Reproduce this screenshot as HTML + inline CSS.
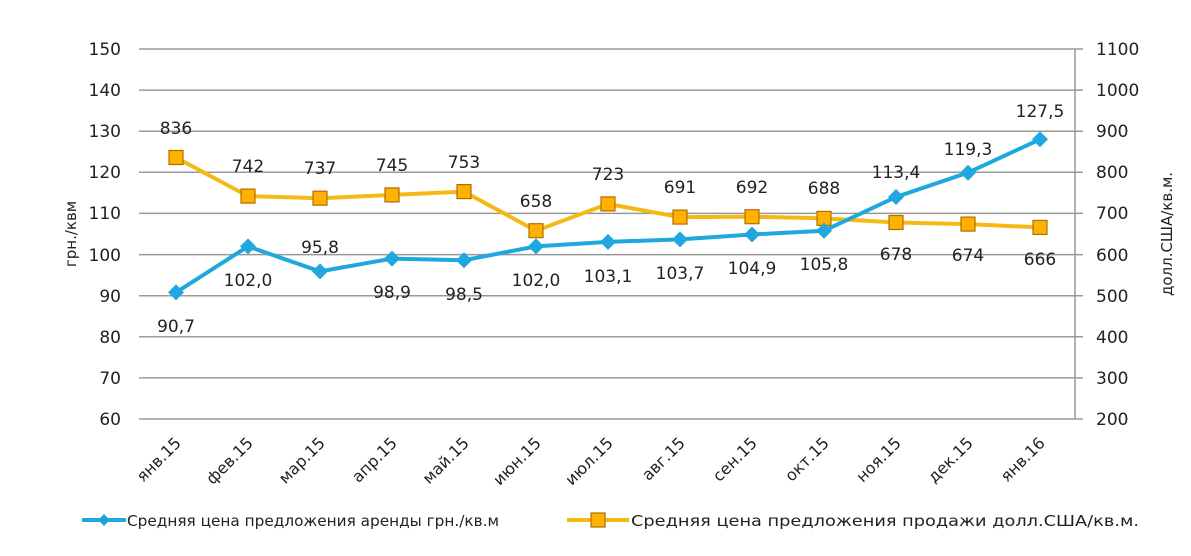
<!DOCTYPE html>
<html><head><meta charset="utf-8"><style>
html,body{margin:0;padding:0;background:#fff;}
svg text{font-family:"DejaVu Sans","Liberation Sans",sans-serif;fill:#222;}
</style></head><body>
<svg width="1191" height="551" viewBox="0 0 1191 551" xmlns="http://www.w3.org/2000/svg">
<g stroke="#999" stroke-width="1.5">
<line x1="139" y1="49" x2="1083" y2="49"/>
<line x1="139" y1="90.1" x2="1083" y2="90.1"/>
<line x1="139" y1="131.2" x2="1083" y2="131.2"/>
<line x1="139" y1="172.3" x2="1083" y2="172.3"/>
<line x1="139" y1="213.4" x2="1083" y2="213.4"/>
<line x1="139" y1="254.6" x2="1083" y2="254.6"/>
<line x1="139" y1="295.7" x2="1083" y2="295.7"/>
<line x1="139" y1="336.8" x2="1083" y2="336.8"/>
<line x1="139" y1="377.9" x2="1083" y2="377.9"/>
<line x1="139" y1="419" x2="1083" y2="419"/>
<line x1="1075" y1="49" x2="1075" y2="419"/>
</g>
<g font-size="17" text-anchor="end">
<text x="121" y="55">150</text><text x="121" y="96">140</text><text x="121" y="137">130</text>
<text x="121" y="178">120</text><text x="121" y="219">110</text><text x="121" y="261">100</text>
<text x="121" y="302">90</text><text x="121" y="343">80</text><text x="121" y="384">70</text><text x="121" y="425">60</text>
</g>
<g font-size="17">
<text x="1096" y="55">1100</text><text x="1096" y="96">1000</text><text x="1096" y="137">900</text>
<text x="1096" y="178">800</text><text x="1096" y="219">700</text><text x="1096" y="261">600</text>
<text x="1096" y="302">500</text><text x="1096" y="343">400</text><text x="1096" y="384">300</text><text x="1096" y="425">200</text>
</g>
<text transform="translate(76,234) rotate(-90)" font-size="15" text-anchor="middle">грн./квм</text>
<text transform="translate(1172,234) rotate(-90)" font-size="15" text-anchor="middle">долл.США/кв.м.</text>
<g font-size="16" text-anchor="end">
<text transform="translate(182,444) rotate(-45)">янв.15</text>
<text transform="translate(254,444) rotate(-45)">фев.15</text>
<text transform="translate(326,444) rotate(-45)">мар.15</text>
<text transform="translate(398,444) rotate(-45)">апр.15</text>
<text transform="translate(470,444) rotate(-45)">май.15</text>
<text transform="translate(542,444) rotate(-45)">июн.15</text>
<text transform="translate(614,444) rotate(-45)">июл.15</text>
<text transform="translate(686,444) rotate(-45)">авг.15</text>
<text transform="translate(758,444) rotate(-45)">сен.15</text>
<text transform="translate(830,444) rotate(-45)">окт.15</text>
<text transform="translate(902,444) rotate(-45)">ноя.15</text>
<text transform="translate(974,444) rotate(-45)">дек.15</text>
<text transform="translate(1046,444) rotate(-45)">янв.16</text>
</g>
<polyline fill="none" stroke="#f5b915" stroke-width="4" points="176,157.5 248,196.1 320,198.2 392,194.9 464,191.6 536,230.7 608,203.9 680,217.1 752,216.7 824,218.4 896,222.5 968,224.1 1040,227.4"/>
<g fill="#ffb000" stroke="#b07000" stroke-width="1.2">
<rect x="169" y="150.5" width="14" height="14"/><rect x="241" y="189.1" width="14" height="14"/>
<rect x="313" y="191.2" width="14" height="14"/><rect x="385" y="187.9" width="14" height="14"/>
<rect x="457" y="184.6" width="14" height="14"/><rect x="529" y="223.7" width="14" height="14"/>
<rect x="601" y="196.9" width="14" height="14"/><rect x="673" y="210.1" width="14" height="14"/>
<rect x="745" y="209.7" width="14" height="14"/><rect x="817" y="211.4" width="14" height="14"/>
<rect x="889" y="215.5" width="14" height="14"/><rect x="961" y="217.1" width="14" height="14"/>
<rect x="1033" y="220.4" width="14" height="14"/>
</g>
<polyline fill="none" stroke="#1fa8de" stroke-width="4" points="176,292.4 248,246.4 320,271.4 392,258.6 464,260.2 536,246.4 608,241.9 680,239.4 752,234.5 824,230.8 896,197 968,172.7 1040,139.3"/>
<g fill="#1fa8de">
<polygon points="176,284.4 184,292.4 176,300.4 168,292.4"/><polygon points="248,238.4 256,246.4 248,254.4 240,246.4"/>
<polygon points="320,263.4 328,271.4 320,279.4 312,271.4"/><polygon points="392,250.6 400,258.6 392,266.6 384,258.6"/>
<polygon points="464,252.2 472,260.2 464,268.2 456,260.2"/><polygon points="536,238.4 544,246.4 536,254.4 528,246.4"/>
<polygon points="608,233.9 616,241.9 608,249.9 600,241.9"/><polygon points="680,231.4 688,239.4 680,247.4 672,239.4"/>
<polygon points="752,226.5 760,234.5 752,242.5 744,234.5"/><polygon points="824,222.8 832,230.8 824,238.8 816,230.8"/>
<polygon points="896,189 904,197 896,205 888,197"/><polygon points="968,164.7 976,172.7 968,180.7 960,172.7"/>
<polygon points="1040,131.3 1048,139.3 1040,147.3 1032,139.3"/>
</g>
<g font-size="17" text-anchor="middle">
<text x="176" y="134">836</text><text x="248" y="172">742</text><text x="320" y="174">737</text>
<text x="392" y="171">745</text><text x="464" y="168">753</text><text x="536" y="207">658</text>
<text x="608" y="180">723</text><text x="680" y="193">691</text><text x="752" y="193">692</text>
<text x="824" y="194">688</text><text x="896" y="260">678</text><text x="968" y="261">674</text><text x="1040" y="265">666</text>
<text x="176" y="332">90,7</text><text x="248" y="286">102,0</text><text x="320" y="253">95,8</text>
<text x="392" y="298">98,9</text><text x="464" y="300">98,5</text><text x="536" y="286">102,0</text>
<text x="608" y="282">103,1</text><text x="680" y="279">103,7</text><text x="752" y="274">104,9</text>
<text x="824" y="270">105,8</text><text x="896" y="178">113,4</text><text x="968" y="155">119,3</text><text x="1040" y="117">127,5</text>
</g>
<line x1="82" y1="520" x2="126" y2="520" stroke="#1fa8de" stroke-width="4"/>
<polygon points="104,514 110,520 104,526 98,520" fill="#1fa8de"/>
<text x="127" y="526" font-size="15" textLength="372" lengthAdjust="spacingAndGlyphs">Средняя  цена предложения  аренды грн./кв.м</text>
<line x1="567" y1="520" x2="629" y2="520" stroke="#f5b915" stroke-width="4"/>
<rect x="591" y="513" width="14" height="14" fill="#ffb000" stroke="#b07000" stroke-width="1.2"/>
<text x="631" y="526" font-size="15" textLength="508" lengthAdjust="spacingAndGlyphs">Средняя  цена предложения  продажи долл.США/кв.м.</text>
</svg>
</body></html>
